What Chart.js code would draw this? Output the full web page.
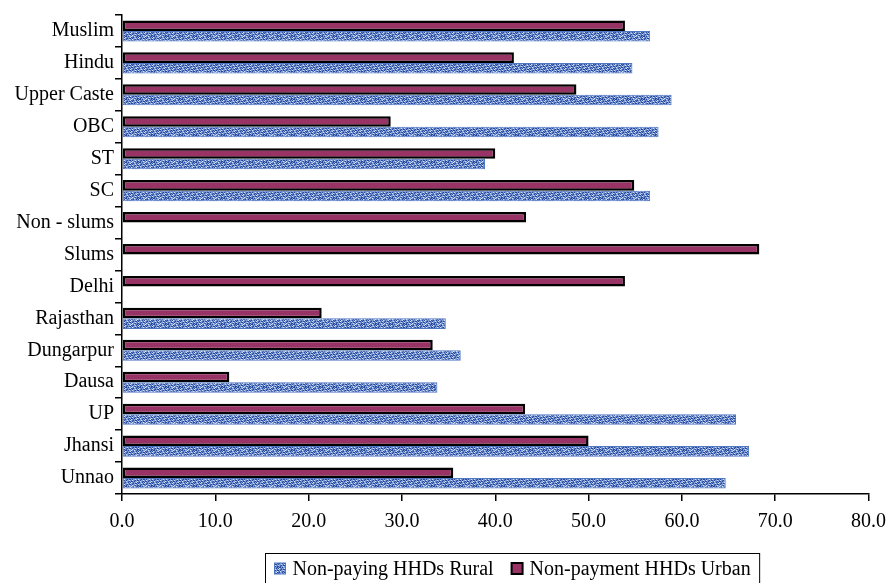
<!DOCTYPE html>
<html>
<head>
<meta charset="utf-8">
<script src="https://cdn.jsdelivr.net/npm/chart.js@4"></script>
<style>
  html, body { margin: 0; padding: 0; background: #ffffff; }
  #wrap { width: 895px; height: 583px; position: relative; }
</style>
</head>
<body>
<div id="wrap"><canvas id="c" width="895" height="583"></canvas></div>
<script>
// Categories, top to bottom
const categories = ["Muslim", "Hindu", "Upper Caste", "OBC", "ST", "SC", "Non - slums", "Slums", "Delhi", "Rajasthan", "Dungarpur", "Dausa", "UP", "Jhansi", "Unnao"];

// Share of households not paying (%), by group
const ruralValues = [56.6, 54.7, 58.9, 57.5, 38.9, 56.6, null, null, null, 34.7, 36.3, 33.8, 65.8, 67.2, 64.7];
const urbanValues = [53.9, 42.0, 48.7, 28.8, 40.0, 54.9, 43.3, 68.3, 53.9, 21.4, 33.3, 11.5, 43.2, 50.0, 35.5];

const seriesNames = ["Non-paying HHDs Rural", "Non-payment HHDs Urban"];

// X axis runs 0–80 in steps of 10, labelled with one decimal
const xMin = 0, xMax = 80, xStep = 10;

const serif = "'Liberation Serif', 'Times New Roman', serif";

// Speckled blue fill for the rural bars
function makeSpeckle() {
  const p = document.createElement('canvas');
  p.width = 14; p.height = 9;
  const g = p.getContext('2d');
  g.fillStyle = '#7d9bd6';
  g.fillRect(0, 0, 14, 9);
  for (let y = 0; y < 9; y++) {
    for (let x = 0; x < 14; x++) {
      const h = (x * 5 + y * 3 + ((x * x + y * 7) % 4)) % 7;
      if (h === 0 || h === 3) { g.fillStyle = '#28489a'; g.fillRect(x, y, 1, 1); }
      else if (h === 5) { g.fillStyle = '#d6e1f6'; g.fillRect(x, y, 1, 1); }
      else if (h === 1) { g.fillStyle = '#4f70bb'; g.fillRect(x, y, 1, 1); }
    }
  }
  return g.createPattern(p, 'repeat');
}
const ctx = document.getElementById('c').getContext('2d');
const speckle = makeSpeckle();

// Framed legend drawn under the axis
const boxedLegend = {
  id: 'boxedLegend',
  afterDraw(chart, args, opts) {
    const c = chart.ctx;
    c.save();
    c.font = opts.font;
    c.textBaseline = 'middle';
    const items = chart.data.datasets.slice().reverse();
    const sw = 11, gapAfterSwatch = 7, gapBetween = 18, padX = 9;
    let total = padX * 2;
    items.forEach((ds, i) => {
      total += sw + gapAfterSwatch + c.measureText(ds.label).width;
      if (i < items.length - 1) total += gapBetween;
    });
    const left = Math.round(opts.centerX - total / 2) + 0.5;
    const top = opts.top + 0.5;
    c.strokeStyle = '#000';
    c.lineWidth = 1;
    c.strokeRect(left, top, total, opts.height);
    let x = left + padX;
    const cy = top + 15;
    items.forEach((ds) => {
      c.fillStyle = ds.backgroundColor;
      c.fillRect(x, cy - sw / 2, sw, sw);
      c.lineWidth = ds.borderWidth > 1 ? 2 : 1;
      c.strokeStyle = ds.borderColor;
      c.strokeRect(x, cy - sw / 2, sw, sw);
      x += sw + gapAfterSwatch;
      c.fillStyle = '#000';
      c.fillText(ds.label, x, cy + 1);
      x += c.measureText(ds.label).width + gapBetween;
    });
    c.restore();
  }
};

new Chart(ctx, {
  type: 'bar',
  data: {
    labels: categories,
    datasets: [
      {
        label: seriesNames[1],
        data: urbanValues,
        backgroundColor: '#993366',
        borderColor: '#000000',
        borderWidth: 2.5,
        borderSkipped: false,
        barPercentage: 1.0,
        categoryPercentage: 0.66
      },
      {
        label: seriesNames[0],
        data: ruralValues,
        backgroundColor: speckle,
        borderColor: '#4f77c4',
        borderWidth: 1,
        borderSkipped: false,
        barPercentage: 1.0,
        categoryPercentage: 0.66
      }
    ]
  },
  options: {
    indexAxis: 'y',
    responsive: false,
    animation: false,
    layout: { padding: { top: 15, right: 25, bottom: 0, left: 0 } },
    scales: {
      x: {
        min: xMin,
        max: xMax,
        ticks: {
          stepSize: xStep,
          color: '#000',
          font: { family: serif, size: 20 },
          padding: 9,
          maxRotation: 0,
          callback: (v) => Number(v).toFixed(1)
        },
        grid: { drawOnChartArea: false, drawTicks: true, tickLength: 7, color: '#000', lineWidth: 1.5 },
        border: { display: true, color: '#000', width: 1.5 },
        afterFit(scale) { scale.height = 89; }
      },
      y: {
        ticks: {
          color: '#000',
          font: { family: serif, size: 20 },
          padding: 1
        },
        grid: { drawOnChartArea: false, drawTicks: true, tickLength: 7, color: '#000', lineWidth: 1.5, offset: true },
        border: { display: true, color: '#000', width: 1.5 },
        afterFit(scale) { scale.width = 122; }
      }
    },
    plugins: {
      legend: { display: false },
      tooltip: { enabled: false },
      boxedLegend: { font: "20px " + serif, centerX: 512, top: 553, height: 32 }
    }
  },
  plugins: [boxedLegend]
});
</script>
</body>
</html>
